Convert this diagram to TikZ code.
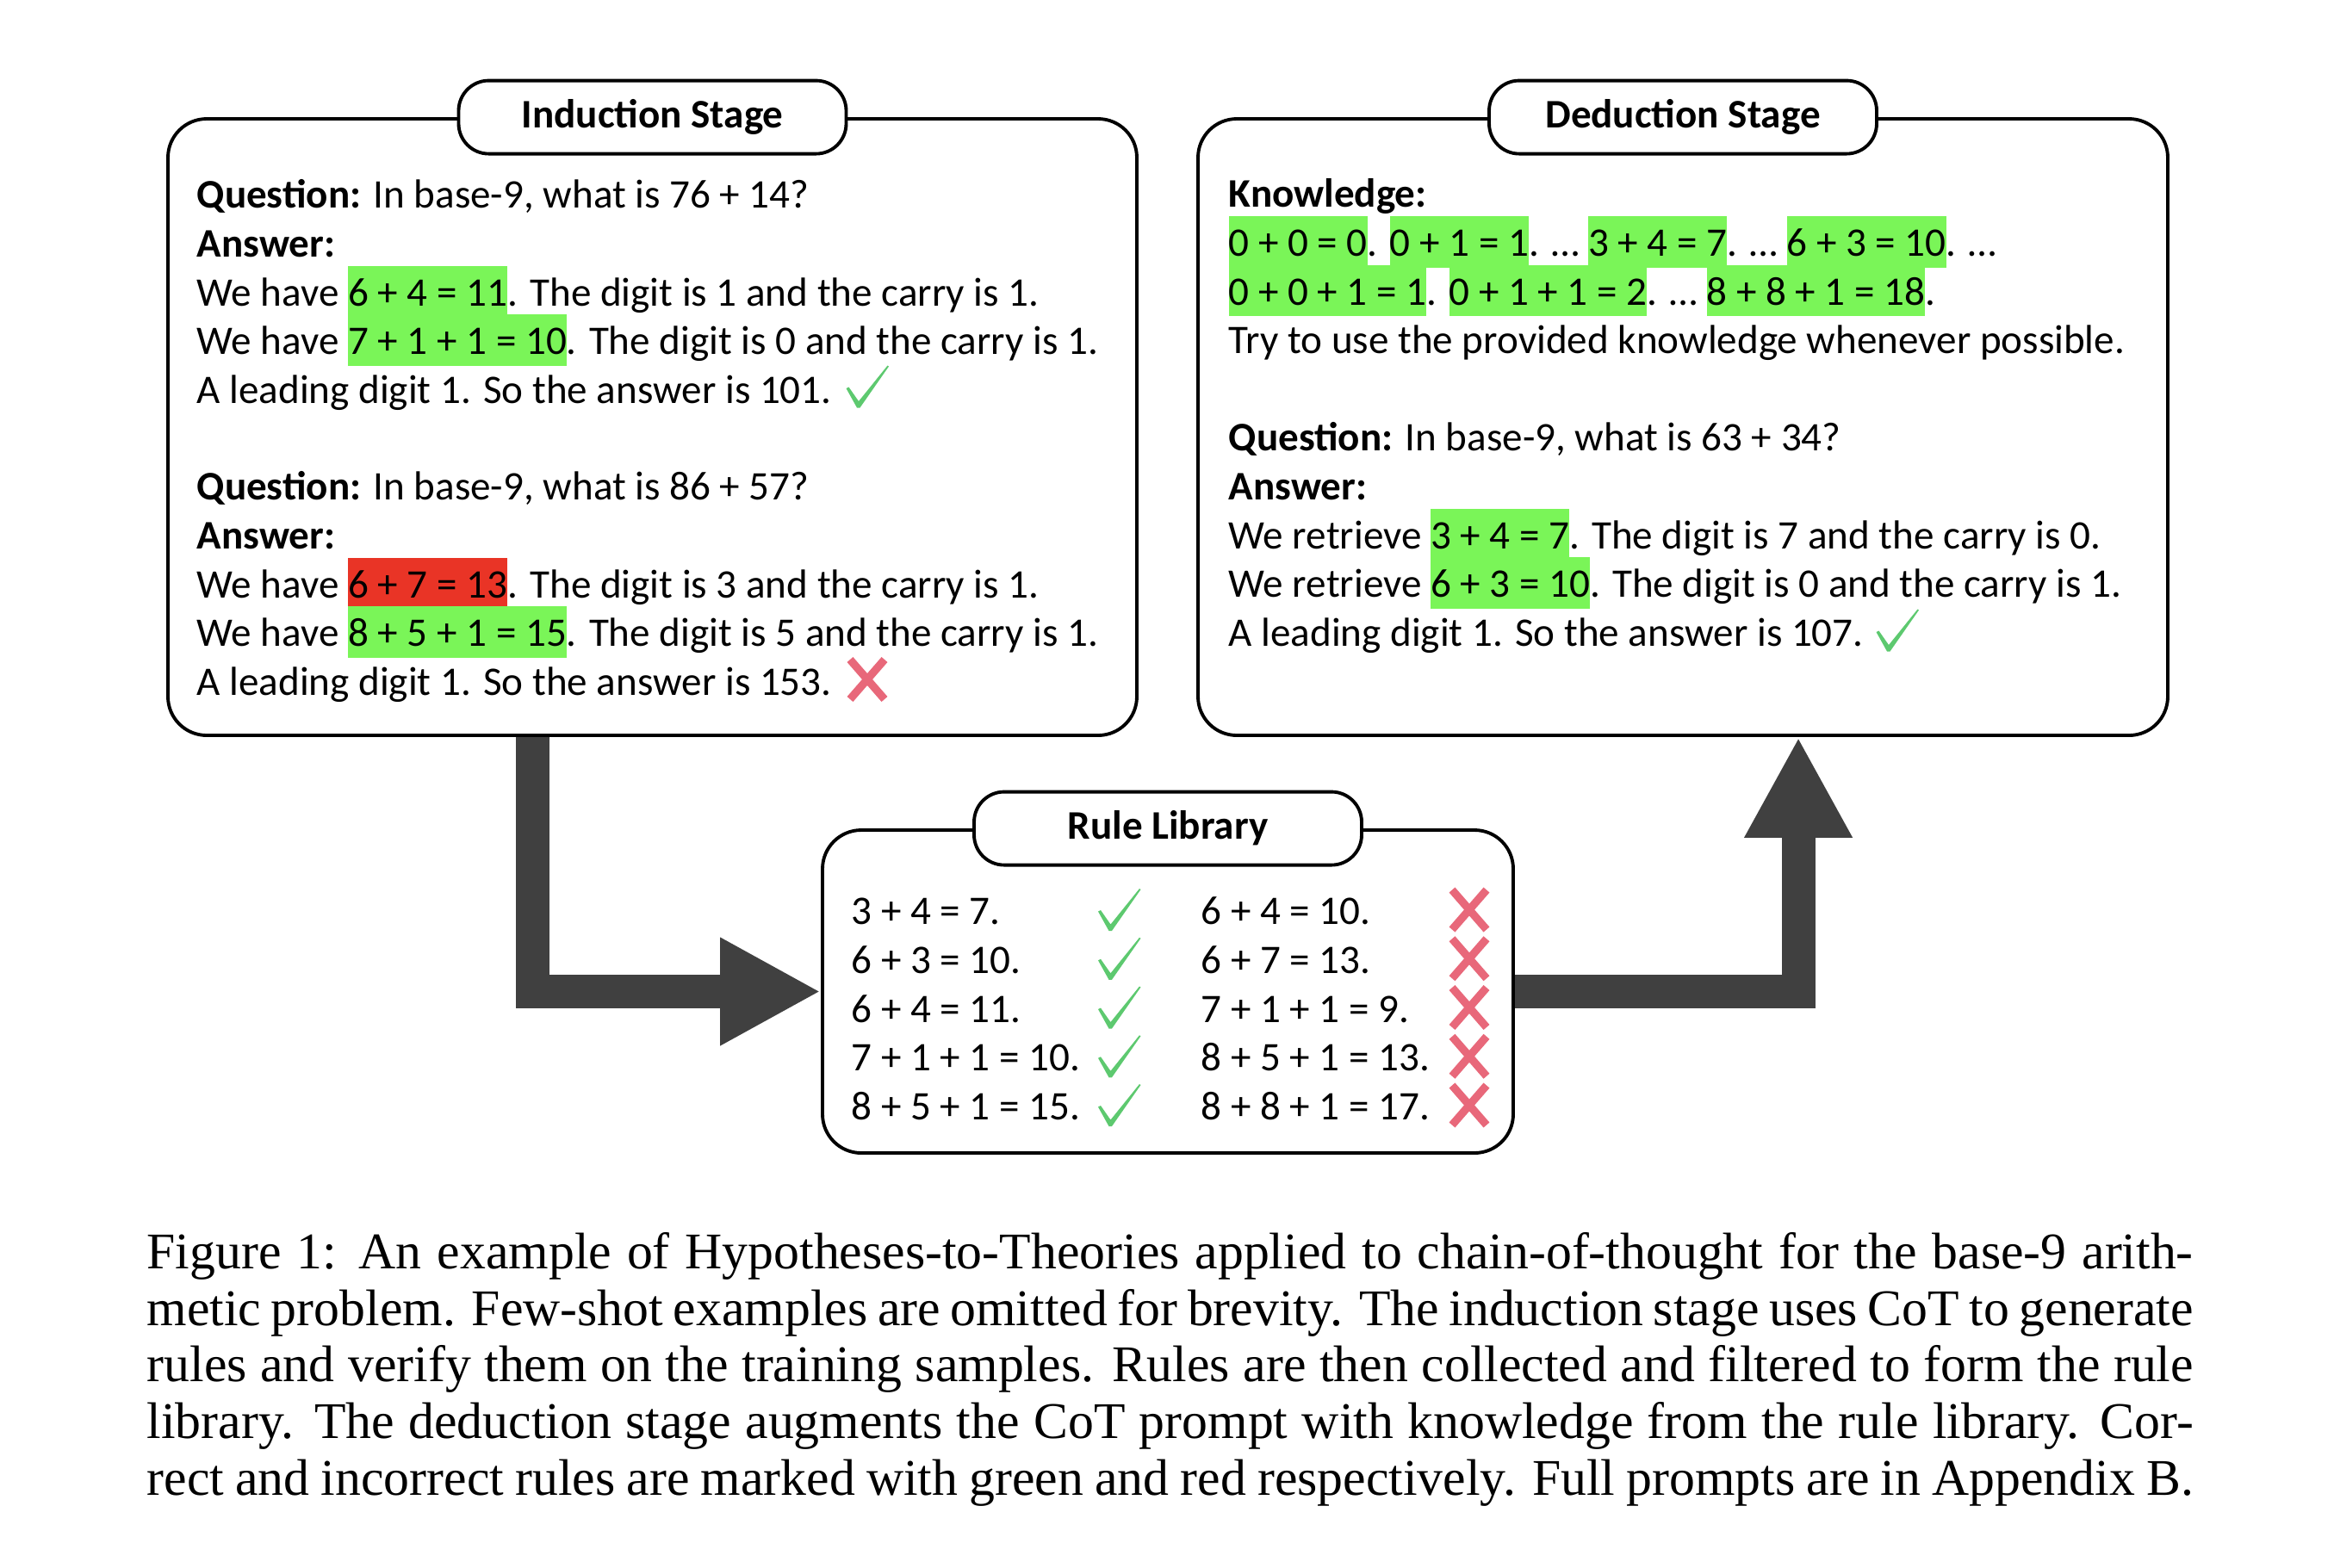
\documentclass[tikz,border=0pt]{standalone}
\usepackage{fontspec}
\setmainfont{Carlito}
\newfontfamily\capfont{Liberation Serif}
\usetikzlibrary{arrows.meta,positioning}
\definecolor{hlgreen}{RGB}{122,245,88}
\definecolor{hlred}{RGB}{233,52,38}
\definecolor{okgreen}{RGB}{93,201,111}
\definecolor{badred}{RGB}{232,104,122}
\definecolor{dkgray}{RGB}{64,64,64}
\setlength{\lineskiplimit}{-50pt}
\newcommand{\hlg}[1]{{\setlength{\fboxsep}{0pt}\colorbox{hlgreen}{\rule[-0.28em]{0pt}{1.26em}#1}}}
\newcommand{\hlr}[1]{{\setlength{\fboxsep}{0pt}\colorbox{hlred}{\rule[-0.28em]{0pt}{1.26em}#1}}}
\newcommand{\fst}{\rule{0pt}{0.98em}}
\newcommand{\chk}[1]{\fill[okgreen,shift={(#1)}] (-0.245,-0.02) -- (-0.215,-0.005) -- (-0.1,-0.17) -- (0.235,0.245) -- (0.25,0.235) -- (-0.085,-0.245) -- (-0.12,-0.245) -- cycle;}
\newcommand{\crs}[1]{\draw[badred,line width=2.6pt,shift={(#1)}] (-0.2,-0.23) -- (0.2,0.23) (-0.2,0.23) -- (0.2,-0.23);}
\tikzset{
  box/.style={draw, line width=1.1pt, rounded corners=0.45cm},
  pill/.style={draw, fill=white, line width=1.1pt, rounded corners=0.35cm, minimum width=4.5cm, minimum height=0.85cm, font=\fontsize{13.4}{16.1}\selectfont\bfseries},
  txt/.style={anchor=north west, inner sep=0pt, align=left, font=\fontsize{13.4}{16.1}\selectfont},
  bigarrow/.style={line width=0.39cm, dkgray, line join=miter, -{Triangle[length=1.17cm,width=1.17cm]}}
}
\begin{document}
\begin{tikzpicture}
\useasboundingbox (0,0) rectangle (27.1,-18.2);
\node[box, minimum width=11.25cm, minimum height=7.16cm] (ind) at (7.575,-4.96) {};
\node[box, minimum width=11.26cm, minimum height=7.16cm] (ded) at (19.54,-4.96) {};
\node[box, minimum width=8.02cm, minimum height=3.75cm] (rule) at (13.56,-11.515) {};
\node[pill] (indt) at (ind.north) {Induction Stage};
\node[pill] (dedt) at (ded.north) {Deduction Stage};
\node[pill] (rulet) at (rule.north) {Rule Library};
%Induction
\node[txt] (q1) at (2.28,-1.95) {\fst\textbf{Question:} In base-9, what is 76 + 14?\\
\textbf{Answer:}\\
We have \hlg{6 + 4 = 11}. The digit is 1 and the carry is 1.\\
We have \hlg{7 + 1 + 1 = 10}. The digit is 0 and the carry is 1.\\
A leading digit 1. So the answer is 101.};
\node[txt] (q2) at (2.28,-5.34) {\fst\textbf{Question:} In base-9, what is 86 + 57?\\
\textbf{Answer:}\\
We have \hlr{6 + 7 = 13}. The digit is 3 and the carry is 1.\\
We have \hlg{8 + 5 + 1 = 15}. The digit is 5 and the carry is 1.\\
A leading digit 1. So the answer is 153.};
\chk{10.07,-4.49}
\crs{10.07,-7.89}
%Deduction
\node[txt] (know) at (14.26,-1.94) {\fst\textbf{Knowledge:}\\
\hlg{0 + 0 = 0}. \hlg{0 + 1 = 1}. … \hlg{3 + 4 = 7}. … \hlg{6 + 3 = 10}. …\\
\hlg{0 + 0 + 1 = 1}. \hlg{0 + 1 + 1 = 2}. … \hlg{8 + 8 + 1 = 18}.\\
Try to use the provided knowledge whenever possible.};
\node[txt] (q3) at (14.26,-4.77) {\fst\textbf{Question:} In base-9, what is 63 + 34?\\
\textbf{Answer:}\\
We retrieve \hlg{3 + 4 = 7}. The digit is 7 and the carry is 0.\\
We retrieve \hlg{6 + 3 = 10}. The digit is 0 and the carry is 1.\\
A leading digit 1. So the answer is 107.};
\chk{22.03,-7.32}
%Rule Library
\node[txt] (good) at (9.88,-10.27) {\fst 3 + 4 = 7.\\ 6 + 3 = 10.\\ 6 + 4 = 11.\\ 7 + 1 + 1 = 10.\\ 8 + 5 + 1 = 15.};
\node[txt] (bad) at (13.94,-10.27) {\fst 6 + 4 = 10.\\ 6 + 7 = 13.\\ 7 + 1 + 1 = 9.\\ 8 + 5 + 1 = 13.\\ 8 + 8 + 1 = 17.};
\foreach \i in {0,...,4} {
  \pgfmathsetmacro\yy{-10.565-0.5675*\i}
  \chk{12.995,\yy}
  \crs{17.06,\yy}
}
\draw[bigarrow] ([xshift=4.25cm]ind.south west) |- (rule.west);
\draw[bigarrow] (rule.east) -| ([xshift=6.99cm]ded.south west);
\node[anchor=north west, inner sep=0pt, text width=23.76cm, align=justify, font=\capfont\fontsize{17}{18.7}\selectfont] (cap) at (1.70,-14.25) {\parfillskip=0pt\hyphenpenalty=10000\tolerance=9999\rule{0pt}{0.8em}Figure 1: An example of Hypotheses-to-Theories applied to chain-of-thought for the base-9 arith-\linebreak
metic problem. Few-shot examples are omitted for brevity. The induction stage uses CoT to generate\linebreak
rules and verify them on the training samples. Rules are then collected and filtered to form the rule\linebreak
library. The deduction stage augments the CoT prompt with knowledge from the rule library. Cor-\linebreak
rect and incorrect rules are marked with green and red respectively. Full prompts are in Appendix B.};
\end{tikzpicture}
\end{document}
